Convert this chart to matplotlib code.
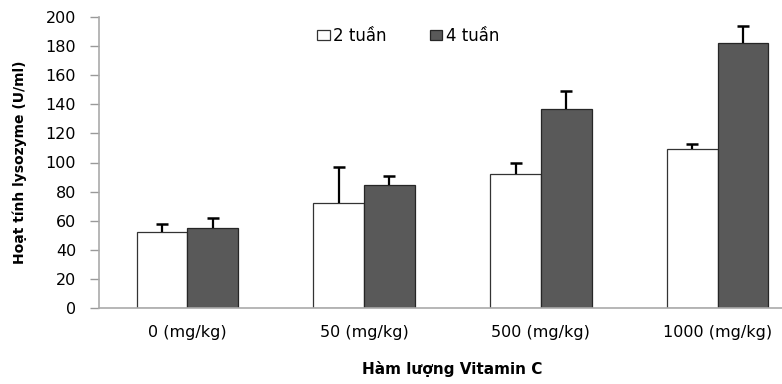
import matplotlib
matplotlib.use("Agg")
import matplotlib.pyplot as plt
import numpy as np

categories = ["0 (mg/kg)", "50 (mg/kg)", "500 (mg/kg)", "1000 (mg/kg)"]
series_names = ["2 tuần", "4 tuần"]
week2 = [52, 72, 92, 109]
week2_err = [6, 25, 8, 4]
week4 = [55, 84.5, 137, 182]
week4_err = [7, 6, 12, 11.5]
yticks = [0, 20, 40, 60, 80, 100, 120, 140, 160, 180, 200]

plt.rcParams['font.family'] = ['DejaVu Sans']

W, H = 782, 384
fig = plt.figure(figsize=(W/100, H/100), dpi=100)
ax = fig.add_axes([99/W, (H-308)/H, 707/W, (308-17)/H])

x = np.arange(len(categories))
w = 0.287
ax.bar(x - w/2, week2, w, color="white", edgecolor="#333333", linewidth=0.9,
       label=series_names[0], zorder=2)
ax.bar(x + w/2, week4, w, color="#595959", edgecolor="#262626", linewidth=0.9,
       label=series_names[1], zorder=2)
for xs, v, e in [(x - w/2, week2, week2_err), (x + w/2, week4, week4_err)]:
    ax.errorbar(xs, v, yerr=[np.zeros(len(v)), e], fmt="none",
                ecolor="black", elinewidth=1.6, capsize=0, zorder=3)
    ax.plot(xs, np.array(v) + np.array(e), linestyle="none", marker="_",
            markersize=8, markeredgewidth=1.8, color="black", zorder=3)

ax.set_xlim(-0.5, len(categories) - 0.5)
ax.set_ylim(0, 200)
ax.set_yticks(yticks)
ax.set_xticks(x)
ax.set_xticklabels(categories, fontsize=11.5)
ax.tick_params(axis='y', labelsize=11.5, length=6.5, color="#999999", width=1, pad=10)
ax.tick_params(axis='x', length=0, pad=12)
for s in ["top", "right"]:
    ax.spines[s].set_visible(False)
for s in ["left", "bottom"]:
    ax.spines[s].set_color("#aaaaaa")
    ax.spines[s].set_linewidth(1.2)

ax.set_ylabel("Hoạt tính lysozyme (U/ml)", fontsize=10, fontweight="bold")
ax.yaxis.set_label_coords(-(99 - 20) / 707, 0.5)
ax.yaxis.label.set_va("center")
ax.set_xlabel("Hàm lượng Vitamin C", fontsize=11, fontweight="bold")
ax.xaxis.set_label_coords(0.5, -(361 - 308) / 291)

leg = ax.legend(loc="center left", bbox_to_anchor=(317/W, 1 - 36/H),
                bbox_transform=fig.transFigure, ncol=2, frameon=False,
                fontsize=12, handlelength=0.75, handleheight=0.56,
                handletextpad=0.2, columnspacing=2.6, borderpad=0,
                borderaxespad=0)
fig.savefig("out.png", dpi=100)
